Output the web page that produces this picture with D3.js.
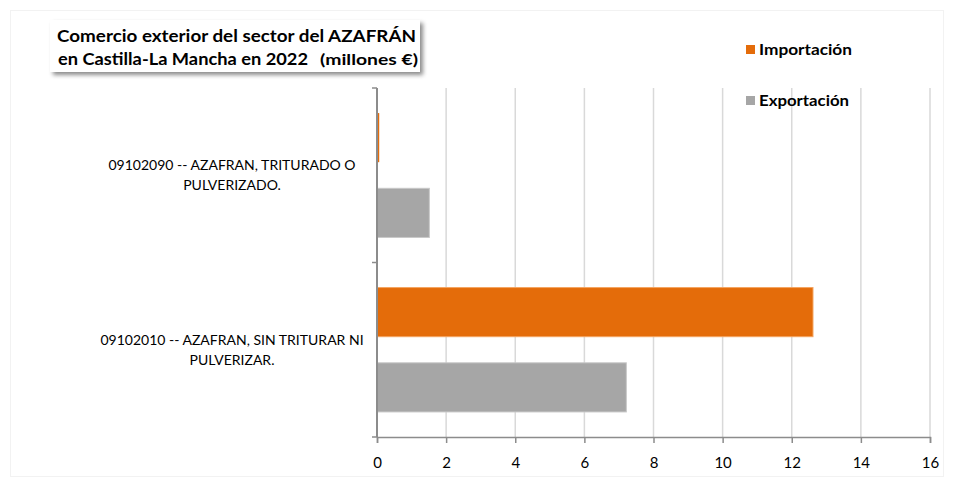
<!DOCTYPE html>
<html>
<head>
<meta charset="utf-8">
<script src="https://cdn.jsdelivr.net/npm/d3@7"></script>
<style>
  body { margin: 0; background: #fff; }
  text { font-family: Lato, "Open Sans", sans-serif; }
</style>
</head>
<body>
<div id="chart"></div>
<script>
// data
const categories = ["09102090 -- AZAFRAN, TRITURADO O PULVERIZADO.", "09102010 -- AZAFRAN, SIN TRITURAR NI PULVERIZAR."];
const categoryLines = [["09102090 -- AZAFRAN, TRITURADO O", "PULVERIZADO."], ["09102010 -- AZAFRAN, SIN TRITURAR NI", "PULVERIZAR."]];
const seriesNames = ["Importación", "Exportación"];
const importacion = [0.05, 12.6];
const exportacion = [1.5, 7.2];
const xTicks = [0, 2, 4, 6, 8, 10, 12, 14, 16];

const colors = {"Importación": "#E46C0A", "Exportación": "#A6A6A6"};
const strokes = {"Importación": "#F4A460", "Exportación": "#C8C8C8"};

const width = 953, height = 484;
const plotLeft = 377, plotRight = 930, plotTop = 88, plotBottom = 437;

const svg = d3.select("#chart").append("svg")
  .attr("width", width).attr("height", height);

/** CHART BORDER */
svg.append("rect")
  .attr("x", 10.5).attr("y", 10.5)
  .attr("width", 933).attr("height", 466)
  .style("fill", "none").style("stroke", "#f2f2f2");

const x = d3.scaleLinear().domain([0, 16]).range([plotLeft, plotRight]);
const y = d3.scaleBand().domain(categories).range([plotTop, plotBottom]);
const inner = d3.scaleBand().domain(seriesNames).range([0, y.bandwidth()])
  .paddingInner(0.347).paddingOuter(0.333);

/** GRID */
svg.append("g").selectAll("line")
  .data(xTicks.slice(1)).enter()
  .append("line")
  .attr("x1", d => x(d)).attr("x2", d => x(d))
  .attr("y1", plotTop).attr("y2", plotBottom)
  .style("stroke", "#D9D9D9").style("stroke-width", 1.5);

/** BARS */
const data = [];
categories.forEach((c, i) => {
  data.push({cat: c, s: "Importación", v: importacion[i]});
  data.push({cat: c, s: "Exportación", v: exportacion[i]});
});
svg.append("g").selectAll("rect")
  .data(data).enter()
  .append("rect")
  .attr("x", x(0) + 0.5)
  .attr("y", d => y(d.cat) + inner(d.s))
  .attr("width", d => Math.max(x(d.v) - x(0), 1.5))
  .attr("height", inner.bandwidth())
  .style("fill", d => colors[d.s])
  .style("stroke", d => d.v > 0.5 ? strokes[d.s] : "none")
  .style("stroke-width", 1);

/** X AXIS */
const xAxis = svg.append("g")
  .attr("transform", `translate(0,${plotBottom})`)
  .call(d3.axisBottom(x).tickValues(xTicks).tickSize(6).tickPadding(14).tickFormat(d3.format("d")));
xAxis.select(".domain").style("stroke", "#8C8C8C").style("stroke-width", 1.5);
xAxis.selectAll(".tick line").style("stroke", "#8C8C8C").style("stroke-width", 1.5);
xAxis.selectAll("text").style("font-size", "15px").style("fill", "#000")
  .style("font-family", "Lato, sans-serif");

/** Y AXIS */
const yAxis = svg.append("g")
  .attr("transform", `translate(${plotLeft},0)`);
yAxis.append("line")
  .attr("x1", 0).attr("x2", 0).attr("y1", plotTop).attr("y2", plotBottom)
  .style("stroke", "#8C8C8C").style("stroke-width", 2);
yAxis.selectAll("line.tick")
  .data([plotTop, y(categories[1]), plotBottom]).enter()
  .append("line")
  .attr("class", "tick")
  .attr("x1", -5).attr("x2", 0)
  .attr("y1", d => d).attr("y2", d => d)
  .style("stroke", "#8C8C8C").style("stroke-width", 1.5);

const catLabels = svg.append("g").selectAll("text")
  .data(categories).enter()
  .append("text")
  .attr("text-anchor", "middle")
  .style("font-size", "14px")
  .style("fill", "#000");
catLabels.each(function(d, i) {
  const cy = y(d) + y.bandwidth() / 2;
  categoryLines[i].forEach((line, j) => {
    d3.select(this).append("tspan")
      .attr("x", 232)
      .attr("y", cy - 10 + j * 20 + 5)
      .text(line);
  });
});

/** TITLE BOX */
const defs = svg.append("defs");
const filter = defs.append("filter").attr("id", "shadow")
  .attr("x", "-10%").attr("y", "-30%").attr("width", "130%").attr("height", "180%");
filter.append("feDropShadow")
  .attr("dx", 3).attr("dy", 3).attr("stdDeviation", 2)
  .attr("flood-color", "#000").attr("flood-opacity", 0.45);
svg.append("rect")
  .attr("x", 50).attr("y", 20)
  .attr("width", 370).attr("height", 52)
  .style("fill", "#fff")
  .attr("filter", "url(#shadow)");
svg.append("text")
  .attr("x", 57).attr("y", 42)
  .attr("textLength", 359).attr("lengthAdjust", "spacingAndGlyphs")
  .style("font-size", "17px").style("font-weight", "bold").style("fill", "#000")
  .text("Comercio exterior del sector del AZAFRÁN");
svg.append("text")
  .attr("x", 58).attr("y", 65)
  .attr("textLength", 250).attr("lengthAdjust", "spacingAndGlyphs")
  .style("font-size", "17px").style("font-weight", "bold").style("fill", "#000")
  .text("en Castilla-La Mancha en 2022");
svg.append("text")
  .attr("x", 320).attr("y", 65)
  .attr("textLength", 98).attr("lengthAdjust", "spacingAndGlyphs")
  .style("font-size", "15px").style("font-weight", "bold").style("fill", "#000")
  .text("(millones €)");

/** LEGEND */
const legendWidths = [93, 90];
const legend = svg.append("g").attr("transform", "translate(746,0)");
seriesNames.forEach((s, i) => {
  const ly = 50 + i * 51;
  legend.append("rect")
    .attr("x", 0).attr("y", ly - 5)
    .attr("width", 9).attr("height", 9)
    .style("fill", colors[s]);
  legend.append("text")
    .attr("x", 13).attr("y", ly + 5)
    .attr("textLength", legendWidths[i]).attr("lengthAdjust", "spacingAndGlyphs")
    .style("font-size", "15px").style("font-weight", "bold").style("fill", "#000")
    .text(s);
});
</script>
</body>
</html>
